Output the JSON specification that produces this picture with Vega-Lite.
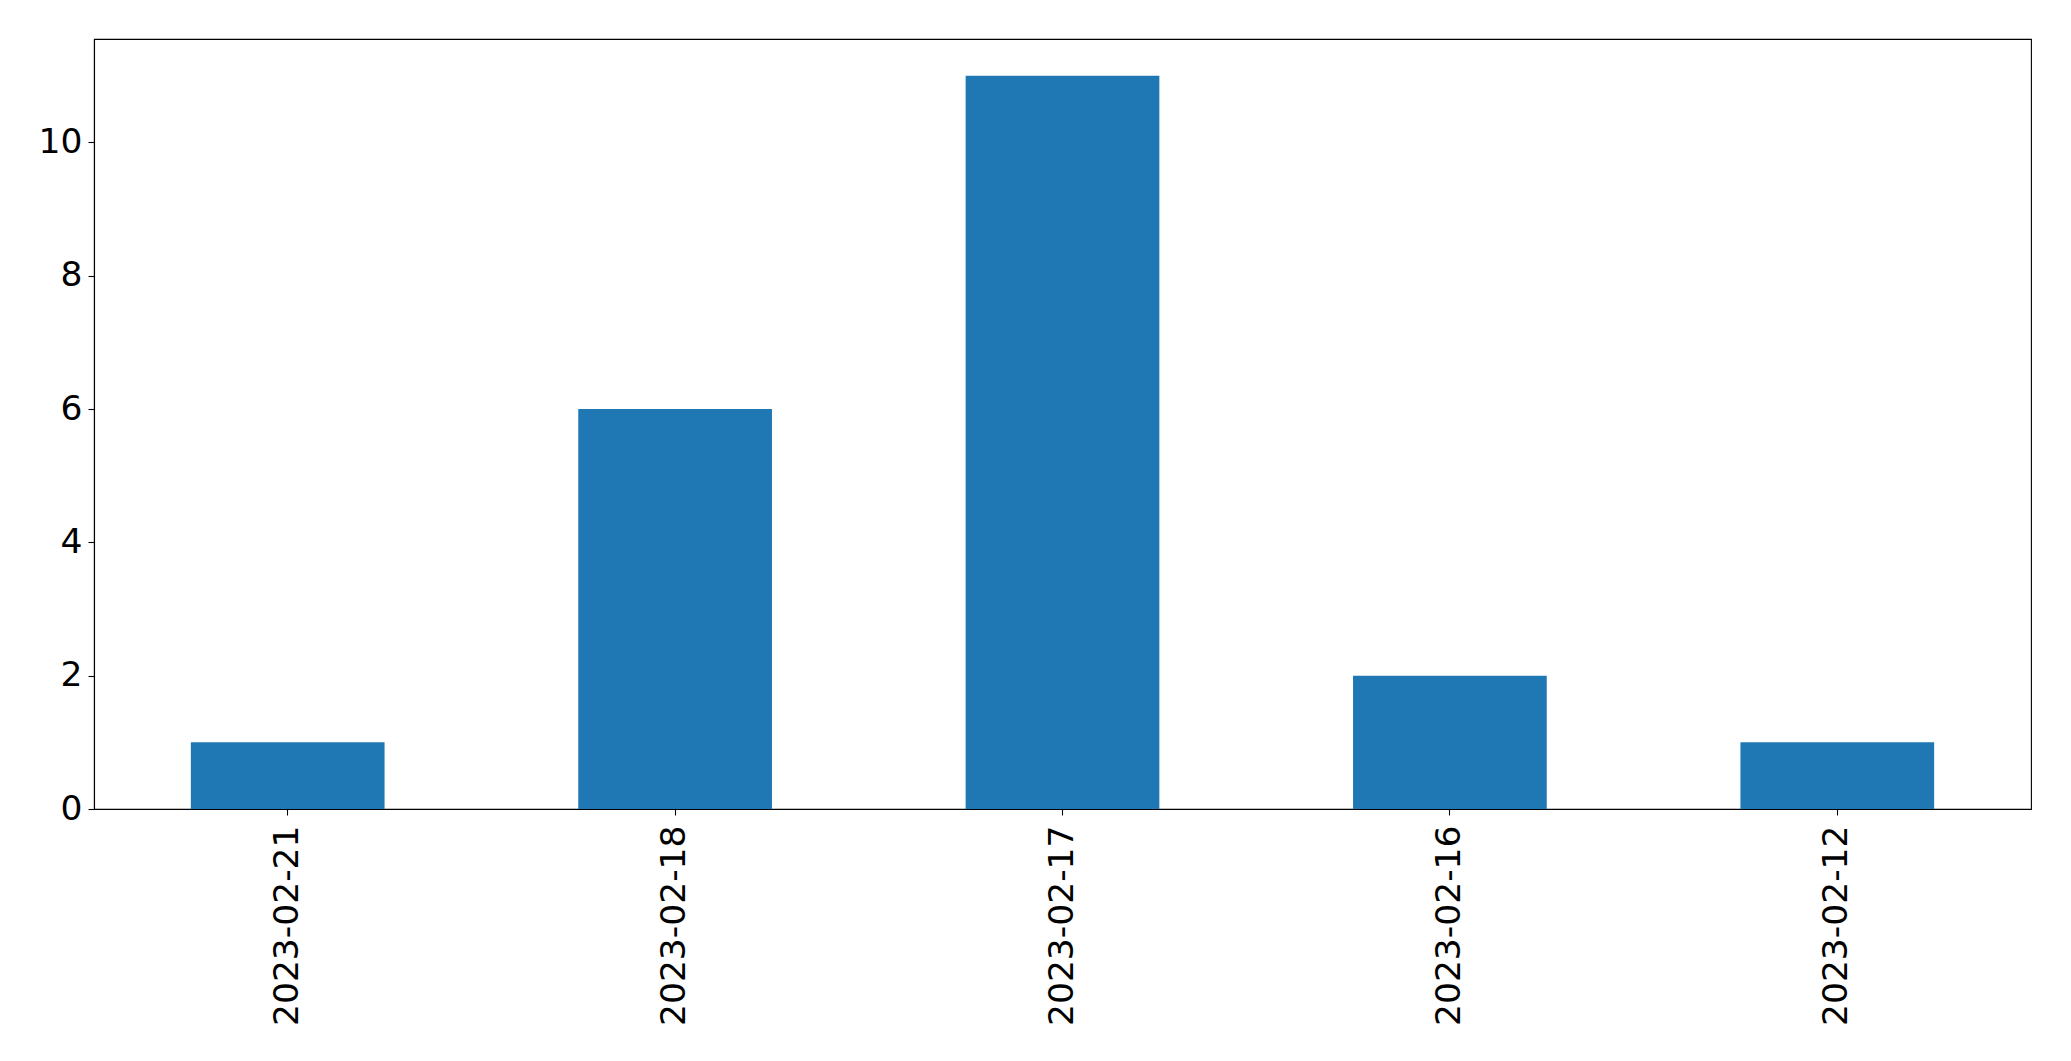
{
  "$schema": "https://vega.github.io/schema/vega-lite/v6.json",
  "autosize": {"type": "none"},
  "padding": {"left": 94, "top": 39, "right": 40, "bottom": 252},
  "width": 1937,
  "height": 770,
  "background": "white",
  "config": {
    "view": {"stroke": "black", "strokeWidth": 1.1},
    "font": "DejaVu Sans",
    "axis": {
      "labelFont": "DejaVu Sans",
      "labelFontSize": 34.5,
      "labelColor": "black",
      "tickColor": "black",
      "domainColor": "black",
      "tickSize": 6,
      "tickWidth": 1.1,
      "domainWidth": 1.1,
      "grid": false,
      "title": null
    }
  },
  "data": {
    "values": [
      {"date": "2023-02-21", "count": 1},
      {"date": "2023-02-18", "count": 6},
      {"date": "2023-02-17", "count": 11},
      {"date": "2023-02-16", "count": 2},
      {"date": "2023-02-12", "count": 1}
    ]
  },
  "mark": {"type": "bar", "color": "#1f77b4"},
  "encoding": {
    "x": {
      "field": "date",
      "type": "nominal",
      "sort": null,
      "scale": {"paddingInner": 0.5, "paddingOuter": 0.25},
      "axis": {"labelAngle": -90, "labelPadding": 10, "labelLimit": 400, "title": null}
    },
    "y": {
      "field": "count",
      "type": "quantitative",
      "scale": {"domain": [0, 11.55], "nice": false},
      "axis": {"values": [0, 2, 4, 6, 8, 10], "labelPadding": 6, "title": null}
    }
  }
}
